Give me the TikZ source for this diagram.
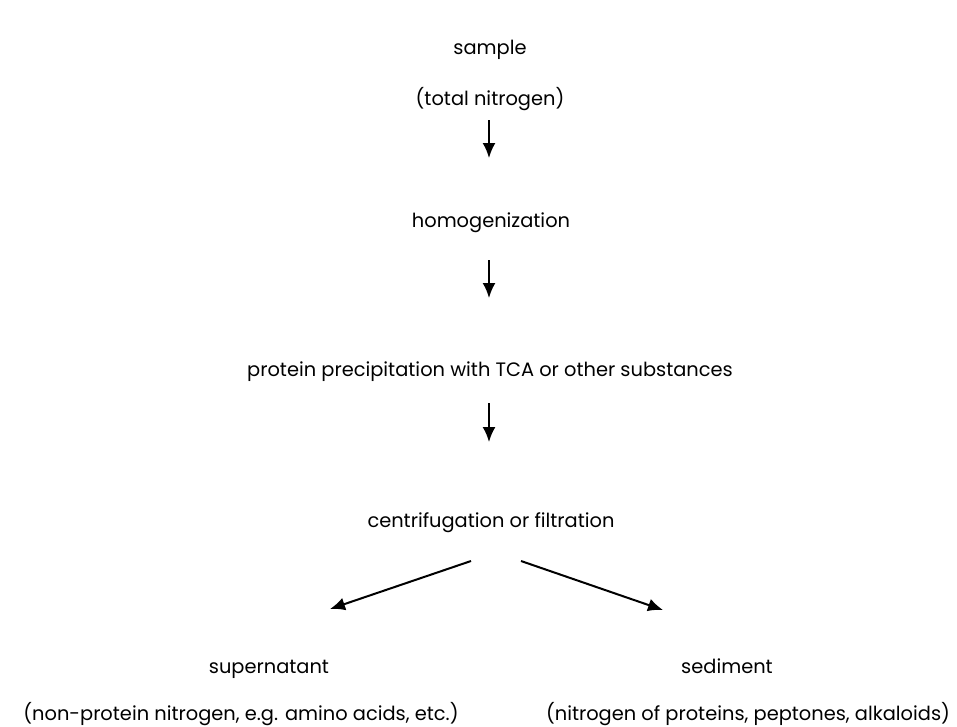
\documentclass[tikz,border=0pt]{standalone}
\usepackage{fontspec}
\setmainfont{Poppins}
\usetikzlibrary{arrows.meta}
\begin{document}
\begin{tikzpicture}[x=1pt,y=-1pt,
  lbl/.style={inner sep=0pt,anchor=base,font=\fontsize{19.4}{22}\selectfont},
  arr/.style={-{Latex[length=15pt,width=13pt]},line width=2pt}]
\useasboundingbox (0,0) rectangle (957,726);
\node[lbl] (s) at (490,54) {sample};
\node[lbl] (tn) at (490,105) {(total nitrogen)};
\node[lbl] (h) at (491,227) {homogenization};
\node[lbl] (p) at (490,376) {protein precipitation with TCA or other substances};
\node[lbl] (c) at (491,527) {centrifugation or filtration};
\node[lbl] (sup) at (269,673) {supernatant};
\node[lbl] (sed) at (727,673) {sediment};
\node[lbl] (np) at (241,720) {(non-protein nitrogen, e.g. amino acids, etc.)};
\node[lbl] (pr) at (748,720) {(nitrogen of proteins, peptones, alkaloids)};
\coordinate (a1s) at (489,120); \coordinate (a1e) at (489,158);
\coordinate (a2s) at (489,260); \coordinate (a2e) at (489,298);
\coordinate (a3s) at (489,403); \coordinate (a3e) at (489,442);
\coordinate (ls) at (471,561); \coordinate (le) at (330,609);
\coordinate (rs) at (521,561); \coordinate (re) at (663,610);
\draw[arr] (a1s) -- (a1e);
\draw[arr] (a2s) -- (a2e);
\draw[arr] (a3s) -- (a3e);
\draw[arr] (ls) -- (le);
\draw[arr] (rs) -- (re);
\end{tikzpicture}
\end{document}
